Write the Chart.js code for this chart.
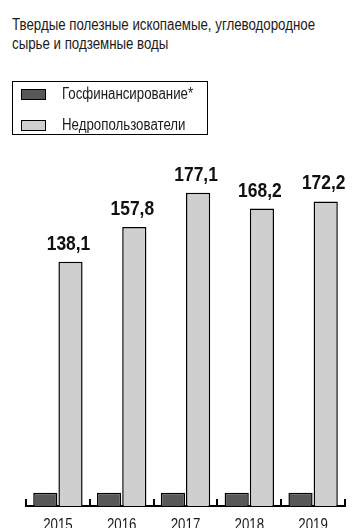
<!DOCTYPE html>
<html lang="ru">
<head>
<meta charset="utf-8">
<script src="https://cdn.jsdelivr.net/npm/chart.js@4/dist/chart.umd.min.js"></script>
<style>
  html, body { margin: 0; padding: 0; background: #fff; }
  body { width: 356px; height: 528px; position: relative; overflow: hidden; }
  #chart { position: absolute; left: 0; top: 0; }
  .narrow {
    position: absolute; white-space: nowrap; color: #1a1a1a;
    font-family: "Liberation Sans", Arial, sans-serif; font-size: 16px; line-height: 20px;
    transform: scaleX(0.83); transform-origin: 0 0;
  }
  #legend { position: absolute; left: 12px; top: 81px; width: 194px; height: 52px; border: 1.5px solid #000; }
  .sw { position: absolute; width: 23px; height: 9px; border: 1px solid #000; }
</style>
</head>
<body>
<div class="narrow" style="left:12px; top:15px;">Твердые полезные ископаемые, углеводородное</div>
<div class="narrow" style="left:12px; top:34px;">сырье и подземные воды</div>
<div id="legend"></div>
<canvas id="chart" width="356" height="528"></canvas>
<script>
// Годы и объёмы финансирования, млрд руб.
const years = ['2015', '2016', '2017', '2018', '2019'];
const stateFunding = [7.5, 7.5, 7.5, 7.5, 7.5];
const subsoilUsers = [138.1, 157.8, 177.1, 168.2, 172.2];
const seriesNames = ['Госфинансирование*', 'Недропользователи'];
const seriesColors = ['#585858', '#cfcfcf'];

const baseFont = '"Liberation Sans", Arial, sans-serif';
const squeeze = 0.83; // узкое начертание

// Легенда в рамке
seriesNames.forEach((name, i) => {
  const sw = document.createElement('div');
  sw.className = 'sw';
  sw.style.left = '21px';
  sw.style.top = (89 + i * 31) + 'px';
  sw.style.background = seriesColors[i];
  document.body.appendChild(sw);
  const txt = document.createElement('div');
  txt.className = 'narrow';
  txt.style.left = '62px';
  txt.style.top = (84 + i * 31) + 'px';
  txt.textContent = name;
  document.body.appendChild(txt);
});

function narrowText(ctx, text, x, y) {
  ctx.save();
  ctx.translate(x, y);
  ctx.scale(squeeze, 1);
  ctx.fillText(text, 0, 0);
  ctx.restore();
}

// Подписи значений над светлыми столбцами и годы под осью
const labelsPlugin = {
  id: 'labelsPlugin',
  afterDraw(chart) {
    const ctx = chart.ctx;
    const meta = chart.getDatasetMeta(1);
    const xScale = chart.scales.x;
    ctx.save();
    ctx.textAlign = 'center';
    ctx.textBaseline = 'alphabetic';
    ctx.fillStyle = '#111';
    ctx.font = 'bold 21px ' + baseFont;
    meta.data.forEach((bar, i) => {
      narrowText(ctx, subsoilUsers[i].toFixed(1).replace('.', ','), bar.x - 2, bar.y - 12);
    });
    ctx.fillStyle = '#1a1a1a';
    ctx.font = '16px ' + baseFont;
    years.forEach((y, i) => {
      narrowText(ctx, y, xScale.getPixelForValue(i), xScale.top + 23.5);
    });
    ctx.restore();
  }
};

new Chart(document.getElementById('chart'), {
  type: 'bar',
  data: {
    labels: years,
    datasets: [
      { label: seriesNames[0], data: stateFunding, backgroundColor: seriesColors[0] },
      { label: seriesNames[1], data: subsoilUsers, backgroundColor: seriesColors[1] }
    ]
  },
  options: {
    responsive: false,
    devicePixelRatio: 1,
    animation: false,
    layout: { padding: { left: 26, right: 11, top: 170, bottom: 0 } },
    datasets: {
      bar: {
        borderColor: '#000',
        borderWidth: 1.5,
        categoryPercentage: 0.79,
        barPercentage: 0.96
      }
    },
    plugins: {
      legend: { display: false },
      tooltip: { enabled: false }
    },
    scales: {
      x: {
        border: { display: true, color: '#000', width: 2 },
        grid: {
          offset: true,
          drawOnChartArea: false,
          drawTicks: true,
          tickLength: -7,
          color: '#000',
          lineWidth: 2
        },
        ticks: { display: false },
        afterFit(scale) { scale.height = 22; }
      },
      y: {
        display: false,
        min: 0,
        max: 190
      }
    }
  },
  plugins: [labelsPlugin]
});
</script>
</body>
</html>
